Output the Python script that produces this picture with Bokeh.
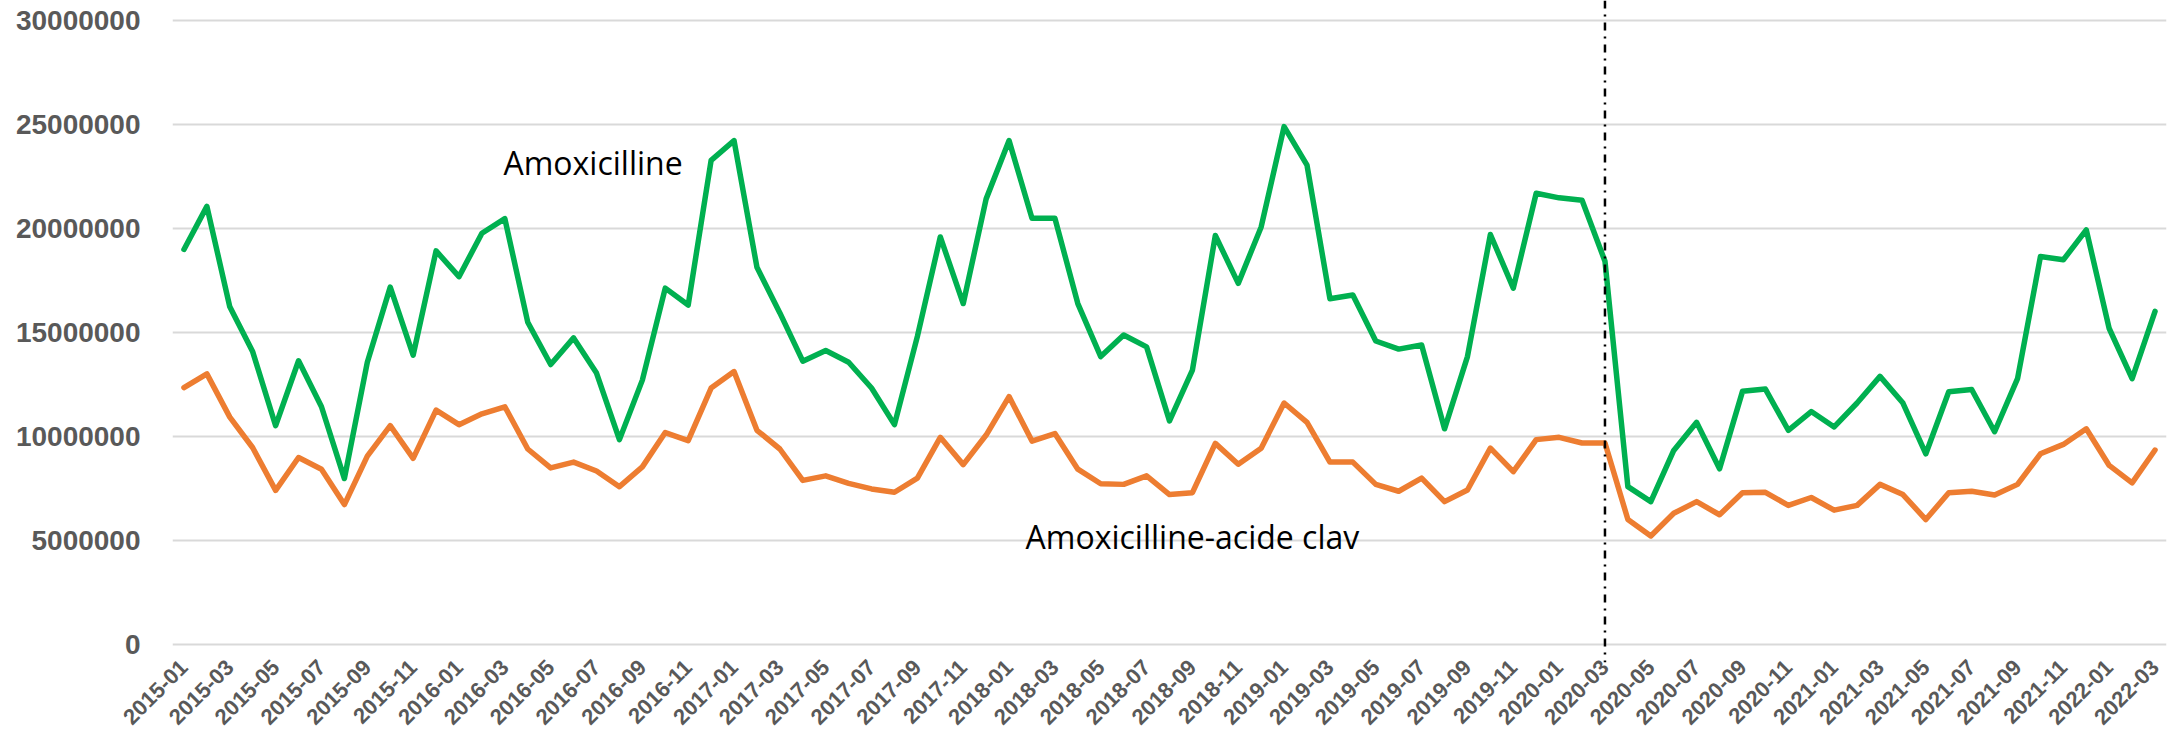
from bokeh.plotting import figure
from bokeh.models import Range1d, FixedTicker, NumeralTickFormatter, Span, Label
from bokeh.embed import file_html
from bokeh.resources import INLINE

# Months 2015-01 .. 2022-03
months = [f"{y}-{m:02d}" for y in range(2015, 2023) for m in range(1, 13)][:87]

amoxicilline = [
    19.0, 21.07, 16.24, 14.08, 10.53, 13.65, 11.44, 7.99, 13.58, 17.19, 13.92, 18.93,
    17.69, 19.78, 20.48, 15.5, 13.47, 14.75, 13.06, 9.86, 12.72, 17.14, 16.33, 23.28,
    24.23, 18.14, 15.95, 13.63, 14.14, 13.58, 12.34, 10.58, 14.82, 19.6, 16.4, 21.43,
    24.23, 20.5, 20.5, 16.4, 13.85, 14.89, 14.32, 10.76, 13.2, 19.67, 17.37, 20.08,
    24.9, 23.05, 16.63, 16.81, 14.6, 14.21, 14.41, 10.38, 13.85, 19.72, 17.14, 21.7,
    21.48, 21.36, 18.43, 7.6, 6.88, 9.34, 10.69, 8.46, 12.18, 12.29, 10.31, 11.21,
    10.47, 11.62, 12.9, 11.62, 9.18, 12.16, 12.27, 10.24, 12.79, 18.66, 18.5, 19.94,
    15.2, 12.79, 16.02,
]
amox_clav = [
    12.36, 13.02, 10.94, 9.47, 7.42, 9.0, 8.44, 6.74, 9.07, 10.53, 8.96, 11.28,
    10.58, 11.1, 11.44, 9.41, 8.5, 8.78, 8.35, 7.6, 8.55, 10.2, 9.81, 12.34,
    13.13, 10.31, 9.41, 7.9, 8.12, 7.76, 7.49, 7.33, 8.01, 9.97, 8.66, 10.08,
    11.93, 9.79, 10.15, 8.44, 7.74, 7.71, 8.12, 7.22, 7.31, 9.68, 8.68, 9.45,
    11.62, 10.69, 8.78, 8.78, 7.71, 7.38, 8.01, 6.88, 7.44, 9.45, 8.32, 9.86,
    9.97, 9.7, 9.7, 6.02, 5.23, 6.32, 6.88, 6.25, 7.31, 7.33, 6.7, 7.08,
    6.47, 6.7, 7.71, 7.22, 6.02, 7.31, 7.38, 7.2, 7.71, 9.18, 9.63, 10.38,
    8.62, 7.78, 9.36,
]
amoxicilline = [v * 1e6 for v in amoxicilline]
amox_clav = [v * 1e6 for v in amox_clav]

y_ticks = [0, 5000000, 10000000, 15000000, 20000000, 25000000, 30000000]
marker_month = "2020-03"
series_labels = ["Amoxicilline", "Amoxicilline-acide clav"]

x = list(range(len(months)))

p = figure(width=2183, height=735, output_backend="svg", toolbar_location=None,
           x_range=Range1d(-0.5, len(months) - 0.5),
           y_range=Range1d(-850000, 30963000),
           min_border_left=172, min_border_right=17, min_border_top=0, min_border_bottom=73)
p.outline_line_color = None
p.background_fill_color = "white"
p.border_fill_color = "white"

p.line(x, amoxicilline, line_color="#00B050", line_width=5.5, line_join="round", line_cap="round")
p.line(x, amox_clav, line_color="#ED7D31", line_width=5.5, line_join="round", line_cap="round")

p.add_layout(Span(location=months.index(marker_month), dimension="height",
                  line_color="black", line_width=2.5, line_dash="8 6 2 6"))

# axes
p.yaxis.ticker = FixedTicker(ticks=y_ticks)
p.yaxis.formatter = NumeralTickFormatter(format="0")
p.yaxis.axis_line_color = None
p.yaxis.major_tick_line_color = None
p.yaxis.minor_tick_line_color = None
p.yaxis.major_tick_out = 0
p.yaxis.major_tick_in = 0
p.yaxis.major_label_standoff = 32
p.yaxis.major_label_text_font = "Liberation Sans"
p.yaxis.major_label_text_font_style = "bold"
p.yaxis.major_label_text_font_size = "28px"
p.yaxis.major_label_text_color = "#595959"

p.xaxis.ticker = FixedTicker(ticks=x[::2])
p.xaxis.major_label_overrides = {i: months[i] for i in x[::2]}
p.xaxis.major_label_orientation = 0.7853981634
p.xaxis.axis_line_color = None
p.xaxis.major_tick_line_color = None
p.xaxis.minor_tick_line_color = None
p.xaxis.major_tick_out = 0
p.xaxis.major_tick_in = 0
p.xaxis.major_label_standoff = 1
p.xaxis.major_label_text_font = "Liberation Sans"
p.xaxis.major_label_text_font_style = "bold"
p.xaxis.major_label_text_font_size = "22px"
p.xaxis.major_label_text_color = "#595959"

p.xgrid.grid_line_color = None
p.ygrid.grid_line_color = "#D9D9D9"
p.ygrid.grid_line_width = 2

p.add_layout(Label(x=13.94, y=23160000, text=series_labels[0], text_font="Open Sans",
                   text_font_size="32px", text_color="black", text_baseline="alphabetic"))
p.add_layout(Label(x=36.72, y=5200000, text=series_labels[1], text_font="Open Sans",
                   text_font_size="32px", text_color="black", text_baseline="alphabetic"))

open("out.html", "w").write(file_html(p, INLINE))
